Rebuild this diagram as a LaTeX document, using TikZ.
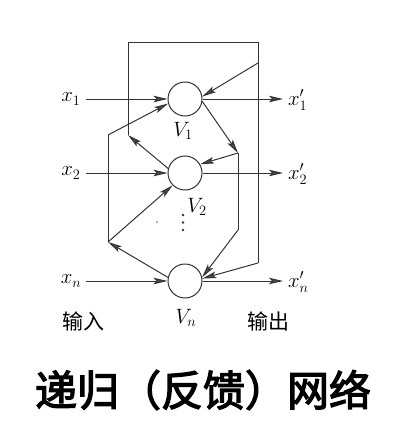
\documentclass[tikz,border=0pt]{standalone}
\usepackage{fontspec}
\newfontfamily\cjk{Noto Sans CJK SC}
\newfontfamily\cjkt[FakeBold=3]{Noto Sans CJK SC}
\usetikzlibrary{arrows.meta}
\begin{document}
\begin{tikzpicture}[x=1pt,y=-1pt,
  wire/.style={draw=black!80,line width=1pt},
  arr/.style={wire,-{Stealth[length=14pt,width=6.5pt,inset=3pt,fill=black!70]}},
  neuron/.style={circle,draw=black!80,line width=1pt,minimum size=34pt,inner sep=0pt},
  lab/.style={font=\fontsize{21}{23}\selectfont,inner sep=0pt},
  cjklab/.style={font=\cjk\fontsize{21}{23}\selectfont,inner sep=0pt}]
\useasboundingbox (0,0) rectangle (408,436);
% neurons
\node[neuron] (c1) at (185,99) {};
\node[neuron] (c2) at (185,173) {};
\node[neuron] (cn) at (185,281) {};
% labels
\node[lab] (x1) at (71,99) {$x_1$};
\node[lab] (x2) at (71,173) {$x_2$};
\node[lab] (xn) at (71,281) {$x_n$};
\node[lab,anchor=west] (y1) at (288,100) {$x_1'$};
\node[lab,anchor=west] (y2) at (288,174) {$x_2'$};
\node[lab,anchor=west] (yn) at (288,282) {$x_n'$};
\node[lab] (v1) at (183,131) {$V_1$};
\node[lab] (v2) at (197,207) {$V_2$};
\node[lab] (vn) at (186,318) {$V_n$};
\node[cjklab] (inlab) at (83,321) {输入};
\node[cjklab] (outlab) at (268,321) {输出};
\node[font=\cjkt\fontsize{42}{46}\selectfont,inner sep=0pt] (title) at (203,390) {递归（反馈）网络};
% dots
\foreach \yy in {215,222.5,230} \fill[black!80] (183,\yy) circle (1.3pt);
\fill[black!60] (157,222) circle (0.9pt);
% coordinates
\coordinate (i1) at (86,99);
\coordinate (i2) at (86,173);
\coordinate (in) at (86,281);
\coordinate (o1) at (283,99);
\coordinate (o2) at (283,173);
\coordinate (on) at (283,281);
\coordinate (TL) at (128,43);
\coordinate (TR) at (258,43);
\coordinate (LA) at (128,135);
\coordinate (RA) at (258,63);
\coordinate (RB) at (258,263);
\coordinate (IL1) at (108,135);
\coordinate (IL2) at (108,242);
\coordinate (IR1) at (238,153);
\coordinate (IR2) at (238,230);
% inputs and outputs
\draw[arr] (i1) -- (c1.west);
\draw[arr] (i2) -- (c2.west);
\draw[arr] (in) -- (cn.west);
\draw[arr] (c1.east) -- (o1);
\draw[arr] (c2.east) -- (o2);
\draw[arr] (cn.east) -- (on);
% outer loop
\draw[arr] (c2.165) -- (LA);
\draw[wire] (LA) -- (TL) -- (TR) -- (RB);
\draw[arr] (RB) -- (cn.8);
\draw[arr] (RA) -- (c1.8);
% inner left loop
\draw[arr] (cn.168) -- (IL2);
\draw[wire] (IL2) -- (IL1);
\draw[arr] (IL1) -- (c1.195);
\draw[arr] (IL2) -- (c2.225);
% inner right loop
\draw[arr] (c1.-8) -- (IR1);
\draw[arr] (IR1) -- (c2.30);
\draw[wire] (IR1) -- (IR2);
\draw[arr] (IR2) -- (cn.12);
\end{tikzpicture}
\end{document}
